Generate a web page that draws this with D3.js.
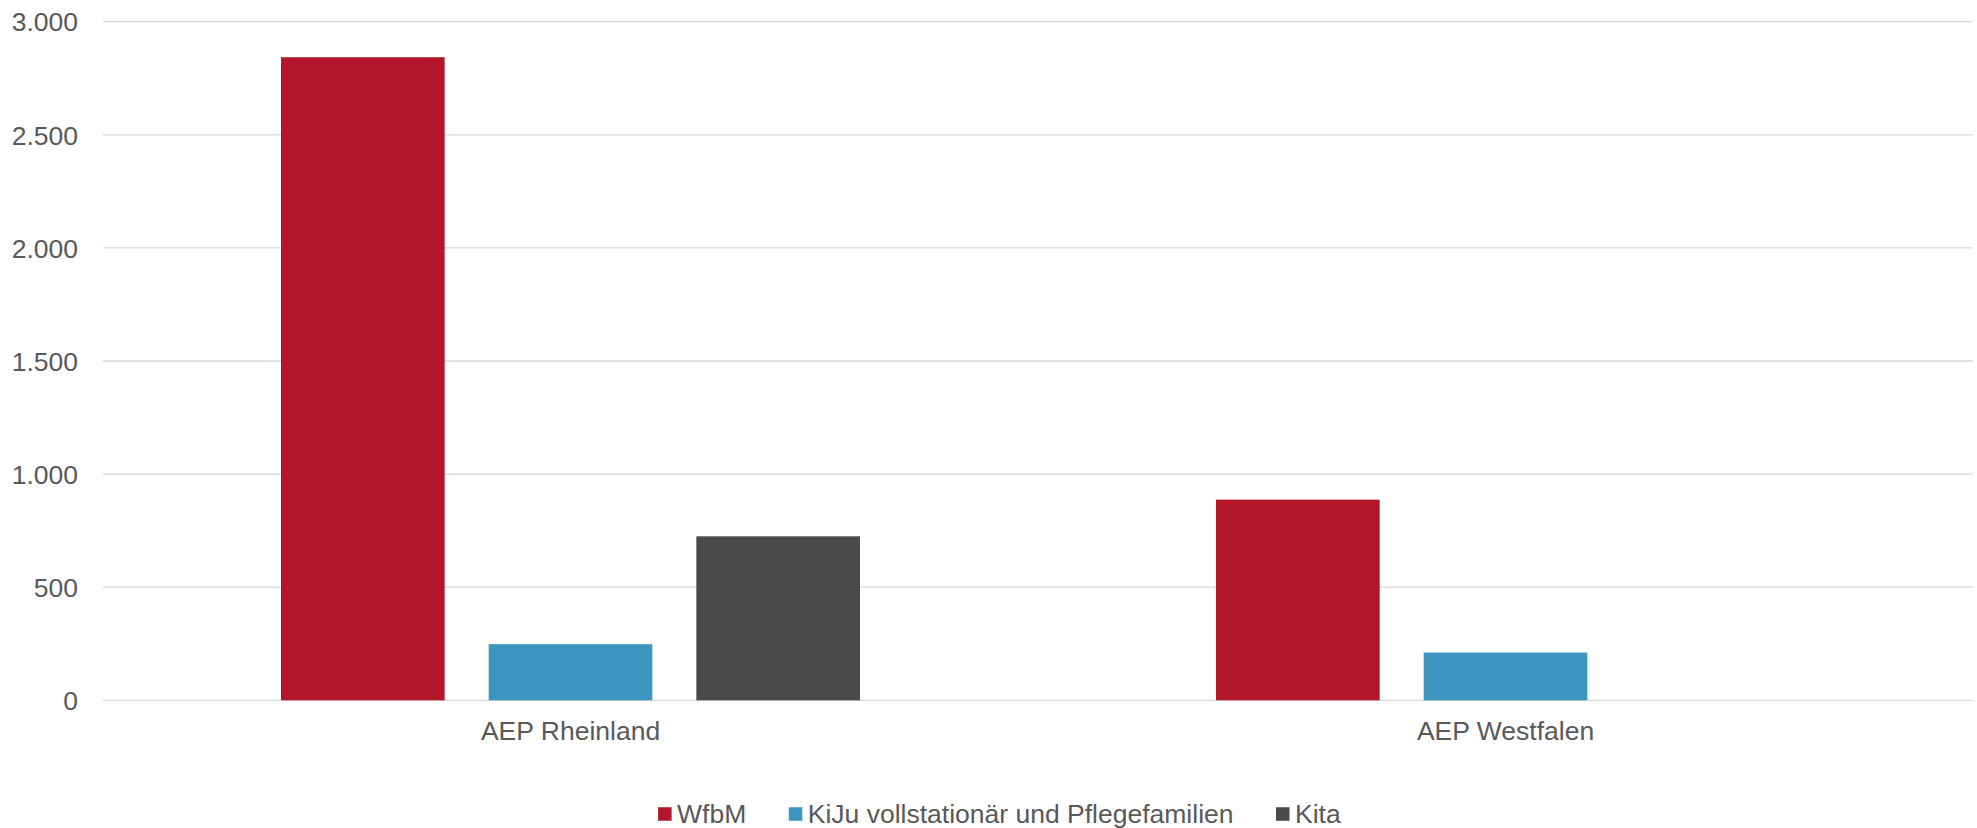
<!DOCTYPE html>
<html>
<head>
<meta charset="utf-8">
<script src="https://cdn.jsdelivr.net/npm/d3@7"></script>
<style>
  html, body { margin: 0; padding: 0; background: #ffffff; }
  svg { display: block; }
  text { font-family: "Liberation Sans", Arial, sans-serif; fill: #595959; }
</style>
</head>
<body>
<svg id="chart" width="1977" height="828"></svg>
<script>
// ---- data ----
const categories = ["AEP Rheinland", "AEP Westfalen"];
const seriesNames = ["WfbM", "KiJu vollstationär und Pflegefamilien", "Kita"];
const wfbmValues = [2843, 887];
const kijuValues = [248, 211];
const kitaValues = [725, null];
const seriesColors = ["#B31529", "#3E96C0", "#4A4A4A"];
const yTickValues = [0, 500, 1000, 1500, 2000, 2500, 3000];

const seriesValues = [wfbmValues, kijuValues, kitaValues];
const fmt = d3.formatLocale({decimal: ",", thousands: ".", grouping: [3], currency: ["", "€"]}).format(",.0f");

const W = 1977, H = 828;
const plot = {left: 103, right: 1973, top: 21.7, bottom: 700.3};
const svg = d3.select("#chart");

const y = d3.scaleLinear().domain([0, 3000]).range([plot.bottom, plot.top]);
const x0 = d3.scaleBand().domain(categories).range([plot.left, plot.right]).padding(0);
const groupPad = 178;
const x1 = d3.scaleBand().domain(seriesNames)
  .range([groupPad, x0.bandwidth() - groupPad]).paddingInner(0.212).paddingOuter(0);

// gridlines
svg.append("g").selectAll("line").data(yTickValues).join("line")
  .attr("x1", plot.left).attr("x2", plot.right)
  .attr("y1", d => y(d)).attr("y2", d => y(d))
  .attr("stroke", "#d9d9d9").attr("stroke-width", 1.3);

// y axis labels
const yAxis = d3.axisLeft(y).tickValues(yTickValues).tickFormat(fmt).tickSize(0).tickPadding(0);
const yg = svg.append("g").attr("transform", `translate(${78},0)`).call(yAxis);
yg.select(".domain").remove();
yg.selectAll("text")
  .attr("font-size", "26.5px").attr("font-family", "Liberation Sans, Arial, sans-serif")
  .attr("fill", "#595959").attr("dy", "0.35em").attr("x", 0);

// bars
const rows = [];
categories.forEach((c, ci) => {
  seriesNames.forEach((s, si) => {
    const v = seriesValues[si][ci];
    if (v !== null && v !== undefined) rows.push({cat: c, series: s, value: v, color: seriesColors[si]});
  });
});
svg.append("g").selectAll("rect").data(rows).join("rect")
  .attr("x", d => x0(d.cat) + x1(d.series))
  .attr("width", x1.bandwidth())
  .attr("y", d => y(d.value))
  .attr("height", d => y(0) - y(d.value))
  .attr("fill", d => d.color);

// x axis labels
const xAxis = d3.axisBottom(x0).tickSize(0).tickPadding(0);
const xg = svg.append("g").attr("transform", `translate(0,${740})`).call(xAxis);
xg.select(".domain").remove();
xg.selectAll("text")
  .attr("font-size", "26.5px").attr("font-family", "Liberation Sans, Arial, sans-serif")
  .attr("fill", "#595959").attr("dy", "0").attr("y", 0);

// legend
const legend = svg.append("g");
const sq = 13.5, gapText = 5.5, gapItem = 42.5;
let cx = 0;
const items = [];
seriesNames.forEach((s, i) => {
  const g = legend.append("g");
  g.append("rect").attr("x", 0).attr("y", -sq / 2).attr("width", sq).attr("height", sq).attr("fill", seriesColors[i]);
  const t = g.append("text").attr("x", sq + gapText).attr("y", 0).attr("dy", "0.35em")
    .attr("font-size", "26.5px").text(s);
  const w = sq + gapText + t.node().getComputedTextLength();
  g.attr("transform", `translate(${cx},0)`);
  cx += w + gapItem;
});
const totalW = cx - gapItem;
legend.attr("transform", `translate(${999.4 - totalW / 2},${814})`);
</script>
</body>
</html>
